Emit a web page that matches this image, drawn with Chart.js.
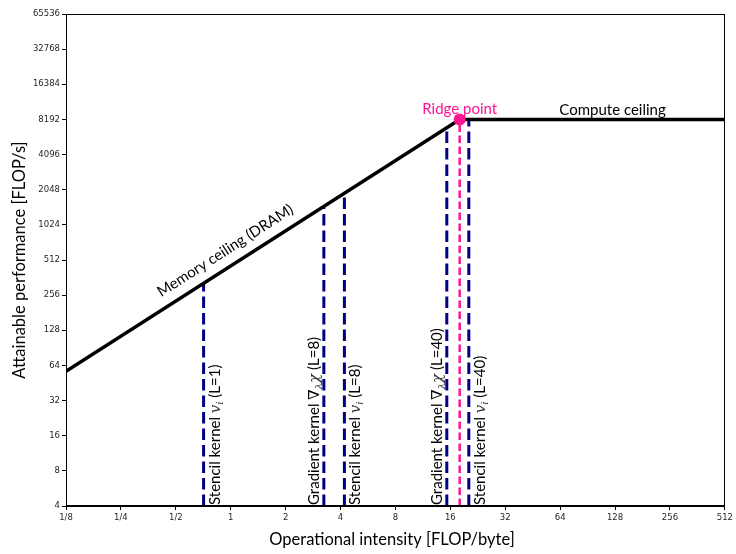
<!DOCTYPE html>
<html>
<head>
<meta charset="utf-8">
<script src="https://cdn.jsdelivr.net/npm/chart.js@4/dist/chart.umd.min.js"></script>
<style>
  html, body { margin: 0; padding: 0; background: #fff; }
  #wrap { width: 736px; height: 554px; }
</style>
</head>
<body>
<div id="wrap"><canvas id="roofline" width="736" height="554"></canvas></div>
<script>
// axis ticks (powers of two)
var xTickValues = [0.125, 0.25, 0.5, 1, 2, 4, 8, 16, 32, 64, 128, 256, 512];
var xTickLabels = ['1/8', '1/4', '1/2', '1', '2', '4', '8', '16', '32', '64', '128', '256', '512'];
var yTickValues = [4, 8, 16, 32, 64, 128, 256, 512, 1024, 2048, 4096, 8192, 16384, 32768, 65536];

// roofline (memory ceiling -> ridge -> compute ceiling)
var roofX = [0.125, 18, 512];
var roofY = [57, 8192, 8192];
var ridgeX = 18;
var ridgeY = 8192;

// kernels: operational intensity and attained roof height
var kernelType = ['stencil', 'gradient', 'stencil', 'gradient', 'stencil'];
var kernelL = [1, 8, 8, 40, 40];
var kernelAI = [0.71, 3.24, 4.2, 15.3, 20.2];
var kernelTop = [322, 1474, 1911, 6960, 8192];
var floorY = 4;

var LABEL_FONT = 'Lato, "Open Sans", sans-serif';
var MATH_FONT = '"DejaVu Serif", serif';

function pts(xs, ys) {
  return xs.map(function(x, i) { return { x: x, y: ys[i] }; });
}

var datasets = [];
datasets.push({
  data: [{ x: ridgeX, y: ridgeY }],
  showLine: false, pointRadius: 6, pointHoverRadius: 6,
  backgroundColor: '#ff1493', borderColor: '#ff1493', borderWidth: 0, order: 0
});
datasets.push({
  data: pts(roofX, roofY),
  borderColor: '#000', borderWidth: 3.5, pointRadius: 0, order: 1
});
datasets.push({
  data: [{ x: ridgeX, y: floorY }, { x: ridgeX, y: ridgeY }],
  borderColor: '#ff1493', borderWidth: 2.5, borderDash: [7.5, 3.5], pointRadius: 0, order: 2
});
kernelAI.forEach(function(ai, i) {
  datasets.push({
    data: [{ x: ai, y: floorY }, { x: ai, y: kernelTop[i] }],
    borderColor: '#000080', borderWidth: 3, borderDash: [11.5, 5], pointRadius: 0, order: 3
  });
});

// draws a list of text runs along a rotated baseline
function drawRuns(ctx, x, y, angle, runs, align) {
  ctx.save();
  ctx.translate(x, y);
  ctx.rotate(angle);
  ctx.textBaseline = 'alphabetic';
  ctx.textAlign = 'left';
  var total = 0;
  runs.forEach(function(r) { ctx.font = r.f; total += ctx.measureText(r.t).width; });
  var cx = align === 'center' ? -total / 2 : 0;
  runs.forEach(function(r) {
    ctx.font = r.f;
    ctx.fillStyle = r.c || '#000';
    ctx.fillText(r.t, cx, r.dy || 0);
    cx += ctx.measureText(r.t).width;
  });
  ctx.restore();
}

function kernelRuns(type, L) {
  var txt = '15px ' + LABEL_FONT;
  if (type === 'stencil') {
    return [
      { t: 'Stencil kernel ', f: txt },
      { t: 'v', f: 'italic 15px ' + MATH_FONT, c: '#333' },
      { t: 'i', f: 'italic 10px ' + MATH_FONT, c: '#333', dy: 3 },
      { t: ' (L=' + L + ')', f: txt }
    ];
  }
  return [
    { t: 'Gradient kernel ', f: txt },
    { t: '\u2207', f: '15px ' + MATH_FONT },
    { t: '\u03bb', f: 'italic 10px ' + MATH_FONT, c: '#333', dy: 3 },
    { t: '\u03c7', f: 'italic 15px ' + MATH_FONT, c: '#333' },
    { t: ' (L=' + L + ')', f: txt }
  ];
}

var annotations = {
  id: 'annotations',
  afterDraw: function(chart) {
    var ctx = chart.ctx;
    var xs = chart.scales.x, ys = chart.scales.y;
    var a = chart.chartArea;

    // frame
    ctx.save();
    ctx.strokeStyle = '#000';
    ctx.lineWidth = 1;
    ctx.strokeRect(Math.round(a.left) + 0.5, Math.round(a.top) + 0.5,
      Math.round(a.right - a.left) - 1, Math.round(a.bottom - a.top) - 1);
    ctx.restore();

    // memory ceiling label along the slope
    var x0 = xs.getPixelForValue(roofX[0]), y0 = ys.getPixelForValue(roofY[0]);
    var x1 = xs.getPixelForValue(roofX[1]), y1 = ys.getPixelForValue(roofY[1]);
    var ang = Math.atan2(y1 - y0, x1 - x0);
    var px = xs.getPixelForValue(1.04);
    var py = y0 + (px - x0) * (y1 - y0) / (x1 - x0);
    drawRuns(ctx, px + Math.sin(ang) * 11, py - Math.cos(ang) * 11, ang,
      [{ t: 'Memory ceiling (DRAM)', f: '15px ' + LABEL_FONT }], 'center');

    // compute ceiling + ridge point labels
    var cy = ys.getPixelForValue(ridgeY);
    drawRuns(ctx, xs.getPixelForValue(124), cy - 4, 0,
      [{ t: 'Compute ceiling', f: '15px ' + LABEL_FONT }], 'center');
    drawRuns(ctx, xs.getPixelForValue(ridgeX), cy - 5, 0,
      [{ t: 'Ridge point', f: '15px ' + LABEL_FONT, c: '#ff1493' }], 'center');

    // kernel labels, vertical
    var by = ys.getPixelForValue(floorY) - 1;
    kernelAI.forEach(function(ai, i) {
      var lx = xs.getPixelForValue(ai);
      var bx = kernelType[i] === 'stencil' ? lx + 16 : lx - 5;
      drawRuns(ctx, bx, by, -Math.PI / 2, kernelRuns(kernelType[i], kernelL[i]), 'left');
    });

    // axis titles
    drawRuns(ctx, 392, 545, 0,
      [{ t: 'Operational intensity [FLOP/byte]', f: '16.5px ' + LABEL_FONT }], 'center');
    drawRuns(ctx, 25, 260, -Math.PI / 2,
      [{ t: 'Attainable performance [FLOP/s]', f: '16.5px ' + LABEL_FONT }], 'center');
  }
};

var tickFont = { family: '"DejaVu Sans", sans-serif', size: 8.5 };

new Chart(document.getElementById('roofline').getContext('2d'), {
  type: 'line',
  data: { datasets: datasets },
  options: {
    responsive: false,
    animation: false,
    devicePixelRatio: 1,
    layout: { padding: { top: 14, right: 9, left: 0, bottom: 0 } },
    plugins: { legend: { display: false }, tooltip: { enabled: false } },
    scales: {
      x: {
        type: 'logarithmic', min: 0.125, max: 512,
        afterBuildTicks: function(scale) { scale.ticks = xTickValues.map(function(v) { return { value: v }; }); },
        afterFit: function(scale) { scale.height = 48; },
        ticks: {
          autoSkip: false, maxRotation: 0, padding: 3, color: '#262626', font: tickFont,
          callback: function(v) { var i = xTickValues.indexOf(v); return i >= 0 ? xTickLabels[i] : ''; }
        },
        grid: { drawOnChartArea: false, drawTicks: true, tickLength: 4, color: '#000' },
        border: { display: true, color: '#000', width: 1 }
      },
      y: {
        type: 'logarithmic', min: 4, max: 65536,
        afterBuildTicks: function(scale) { scale.ticks = yTickValues.map(function(v) { return { value: v }; }); },
        afterFit: function(scale) { scale.width = 66; },
        ticks: {
          autoSkip: false, padding: 2, color: '#262626', font: tickFont,
          callback: function(v) { return String(v); }
        },
        grid: { drawOnChartArea: false, drawTicks: true, tickLength: 4, color: '#000' },
        border: { display: true, color: '#000', width: 1 }
      }
    }
  },
  plugins: [annotations]
});
</script>
</body>
</html>
